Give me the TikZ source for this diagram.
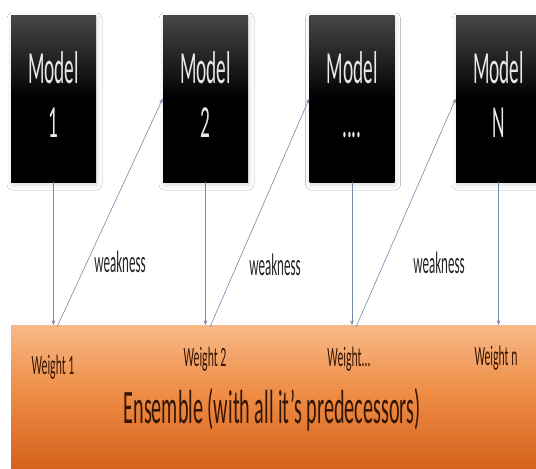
\documentclass[tikz,border=0pt]{standalone}
\usepackage{fontspec}
\newfontfamily\cond[FakeStretch=0.42]{Carlito}
\usetikzlibrary{shadows.blur,arrows.meta}
\definecolor{linkblue}{RGB}{120,135,172}
\definecolor{orangetop}{RGB}{248,184,135}
\definecolor{orangemid}{RGB}{238,138,66}
\definecolor{orangebot}{RGB}{212,98,28}
\definecolor{inkbrown}{RGB}{52,22,4}
\definecolor{modelink}{RGB}{232,232,232}
\begin{document}
\begin{tikzpicture}[x=1pt,y=-1pt,
  modelbox/.style={minimum width=85pt, minimum height=167pt, inner sep=0pt,
    top color=black!72, bottom color=black, middle color=black,
    blur shadow={shadow xshift=1pt, shadow yshift=-3pt, shadow blur radius=5pt, shadow opacity=14},
    text=modelink, align=center,
    font=\cond\fontsize{46}{54}\selectfont},
  ensband/.style={minimum width=525pt, minimum height=143pt, inner sep=0pt,
    top color=orangetop, bottom color=orangebot, middle color=orangemid},
  enstext/.style={text=inkbrown, anchor=base, inner sep=0pt,
    font=\cond\fontsize{48}{54}\selectfont},
  weightlbl/.style={text=inkbrown, inner sep=0pt,
    font=\cond\fontsize{28}{32}\selectfont},
  weaklbl/.style={text=black!85, inner sep=0pt,
    font=\cond\fontsize{31}{34}\selectfont},
  link/.style={draw=linkblue, line width=0.6pt, -{Stealth[length=5pt,width=3.5pt]}}
]
\useasboundingbox (0,0) rectangle (536,469);
\fill[white] (0,0) rectangle (536,469);

% ensemble band at the bottom
\node[ensband] (ens) at (273.5,397) {};
\node[enstext] (enslbl) at (272,423) {Ensemble (with all it’s predecessors)};

% the models
\node[modelbox] (m1) at (53.5,98.5) {Model\\1\rule[-7pt]{0pt}{0pt}};
\node[modelbox] (m2) at (205.5,98.5) {Model\\2\rule[-7pt]{0pt}{0pt}};
\node[modelbox] (m3) at (352,98.5) {Model\\....\rule[-7pt]{0pt}{0pt}};
\node[modelbox] (m4) at (498.5,98.5) {Model\\N\rule[-7pt]{0pt}{0pt}};

% weights inside the ensemble
\node[weightlbl] (w1) at (53,367) {Weight 1};
\node[weightlbl] (w2) at (205,359) {Weight 2};
\node[weightlbl] (w3) at (349,359) {Weight...};
\node[weightlbl] (w4) at (496,358) {Weight n};

% each model feeds its weight
\draw[link] (m1.south) -- (m1.south |- ens.north);
\draw[link] (m2.south) -- (m2.south |- ens.north);
\draw[link] (m3.south) -- (m3.south |- ens.north);
\draw[link] (m4.south) -- (m4.south |- ens.north);

% weaknesses passed on to the next model
\coordinate (d1) at (57,327);
\coordinate (d2) at (210,327);
\coordinate (d3) at (356,327);
\draw[link] (d1) -- (m2.west);
\draw[link] (d2) -- (m3.west);
\draw[link] (d3) -- (m4.west);

\node[weaklbl] (k1) at (120,262) {weakness};
\node[weaklbl] (k2) at (275,265) {weakness};
\node[weaklbl] (k3) at (439,263) {weakness};
\end{tikzpicture}
\end{document}
